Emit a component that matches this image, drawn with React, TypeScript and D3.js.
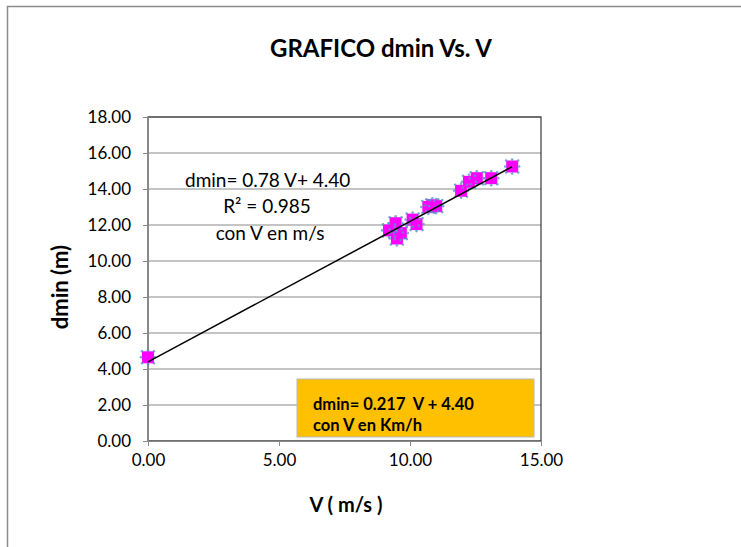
import { useEffect, useRef } from 'react'
import * as d3 from 'd3'

const velocity = [0, 9.2, 9.45, 9.5, 9.65, 10.1, 10.25, 10.7, 10.85, 11.0, 11.95, 12.25, 12.55, 13.1, 13.9]
const dmin = [4.65, 11.7, 12.1, 11.25, 11.55, 12.3, 12.05, 13.0, 13.1, 13.05, 13.9, 14.4, 14.6, 14.6, 15.25]
const xTicks = [0, 5, 10, 15]
const yTicks = [0, 2, 4, 6, 8, 10, 12, 14, 16, 18]
const trendSlope = 0.78
const trendIntercept = 4.4
const trendLabels = ['dmin= 0.78 V+ 4.40', 'R² = 0.985', 'con V en m/s']
const boxLabels = ['dmin= 0.217\u00a0 V + 4.40', 'con V en Km/h']

const FONT = 'Lato, "Open Sans", sans-serif'

const App = () => {
  const svgRef = useRef<SVGSVGElement | null>(null)

  useEffect(() => {
    document.body.style.margin = '0'
    const svg = d3.select(svgRef.current)
    svg.selectAll('*').remove()

    const width = 741
    const height = 547
    const plot = { left: 148, right: 541, top: 117, bottom: 441 }

    svg.attr('width', width).attr('height', height).style('font-family', FONT)

    svg.append('rect').attr('width', width).attr('height', height).attr('fill', '#fff')

    // outer chart frame
    svg
      .append('rect')
      .attr('x', 7.5)
      .attr('y', 6.5)
      .attr('width', width + 20)
      .attr('height', height + 20)
      .attr('fill', 'none')
      .attr('stroke', '#8c8c8c')
      .attr('stroke-width', 1.5)

    const x = d3.scaleLinear().domain([0, 15]).range([plot.left, plot.right])
    const y = d3.scaleLinear().domain([0, 18]).range([plot.bottom, plot.top])

    // gridlines
    svg
      .append('g')
      .selectAll('line')
      .data(yTicks)
      .join('line')
      .attr('x1', plot.left)
      .attr('x2', plot.right)
      .attr('y1', (d) => y(d))
      .attr('y2', (d) => y(d))
      .attr('stroke', '#8a8a8a')
      .attr('stroke-width', 1.2)

    // plot border
    svg
      .append('rect')
      .attr('x', plot.left)
      .attr('y', plot.top)
      .attr('width', plot.right - plot.left)
      .attr('height', plot.bottom - plot.top)
      .attr('fill', 'none')
      .attr('stroke', '#3a3a3a')
      .attr('stroke-width', 1.2)

    const yAxis = d3
      .axisLeft(y)
      .tickValues(yTicks)
      .tickSize(5)
      .tickPadding(12)
      .tickFormat((d) => (d as number).toFixed(2))
    const yg = svg.append('g').attr('transform', `translate(${plot.left},0)`).call(yAxis)
    yg.select('.domain').attr('stroke', '#8a8a8a')
    yg.selectAll('line').attr('stroke', '#8a8a8a')
    yg.selectAll('text').attr('font-size', 17).attr('font-family', FONT).attr('fill', '#000')

    const xAxis = d3
      .axisBottom(x)
      .tickValues(xTicks)
      .tickSize(5)
      .tickPadding(8)
      .tickFormat((d) => (d as number).toFixed(2))
    const xg = svg.append('g').attr('transform', `translate(0,${plot.bottom})`).call(xAxis)
    xg.select('.domain').attr('stroke', '#8a8a8a')
    xg.selectAll('line').attr('stroke', '#8a8a8a')
    xg.selectAll('text').attr('font-size', 17).attr('font-family', FONT).attr('fill', '#000')

    // title and axis titles
    svg
      .append('text')
      .attr('x', 381)
      .attr('y', 57)
      .attr('text-anchor', 'middle')
      .attr('font-size', 24)
      .attr('font-weight', 'bold')
      .text('GRAFICO dmin Vs. V')

    svg
      .append('text')
      .attr('x', 346)
      .attr('y', 512)
      .attr('text-anchor', 'middle')
      .attr('font-size', 20)
      .attr('font-weight', 'bold')
      .text('V ( m/s )')

    svg
      .append('text')
      .attr('transform', `translate(68,287) rotate(-90)`)
      .attr('text-anchor', 'middle')
      .attr('font-size', 22)
      .attr('font-weight', 'bold')
      .text('dmin (m)')

    // markers
    const pts = velocity.map((v, i) => ({ v, d: dmin[i] }))
    const s = 6
    const mg = svg.append('g')
    pts.forEach((p) => {
      const cx = x(p.v)
      const cy = y(p.d)
      mg.append('rect')
        .attr('x', cx - s)
        .attr('y', cy - s)
        .attr('width', 2 * s)
        .attr('height', 2 * s)
        .attr('fill', '#ff00ff')
    })
    pts.forEach((p) => {
      const cx = x(p.v)
      const cy = y(p.d)
      const offs = [
        [0, -s - 1],
        [s + 1, 0],
        [0, s + 1],
        [-s - 1, 0],
        [s, -s],
        [s, s],
        [-s, s],
        [-s, -s],
      ]
      offs.forEach(([dx, dy]) => {
        mg.append('circle')
          .attr('cx', cx + dx)
          .attr('cy', cy + dy)
          .attr('r', 1.3)
          .attr('fill', '#5b8fc9')
          .attr('opacity', 0.8)
      })
    })

    // linear trendline
    const vMax = d3.max(velocity)!
    svg
      .append('line')
      .attr('x1', x(0))
      .attr('y1', y(trendIntercept))
      .attr('x2', x(vMax))
      .attr('y2', y(trendIntercept + trendSlope * vMax))
      .attr('stroke', '#000')
      .attr('stroke-width', 1.5)

    // trendline label
    const tl = svg.append('g').attr('font-size', 19)
    tl.append('text').attr('x', 185).attr('y', 187).text(trendLabels[0])
    tl.append('text').attr('x', 267).attr('y', 213).attr('text-anchor', 'middle').text(trendLabels[1])
    tl.append('text').attr('x', 270).attr('y', 240).attr('text-anchor', 'middle').text(trendLabels[2])

    // orange box
    svg
      .append('rect')
      .attr('x', 297)
      .attr('y', 379)
      .attr('width', 237)
      .attr('height', 58)
      .attr('fill', '#ffc000')
      .attr('stroke', '#b8b8b8')
      .attr('stroke-width', 1)
    const bl = svg.append('g').attr('font-size', 16.5).attr('font-weight', 'bold')
    bl.append('text').attr('x', 313).attr('y', 410).text(boxLabels[0])
    bl.append('text').attr('x', 313).attr('y', 431).text(boxLabels[1])
  }, [])

  return <svg ref={svgRef} style={{ display: 'block' }} />
}

export default App
